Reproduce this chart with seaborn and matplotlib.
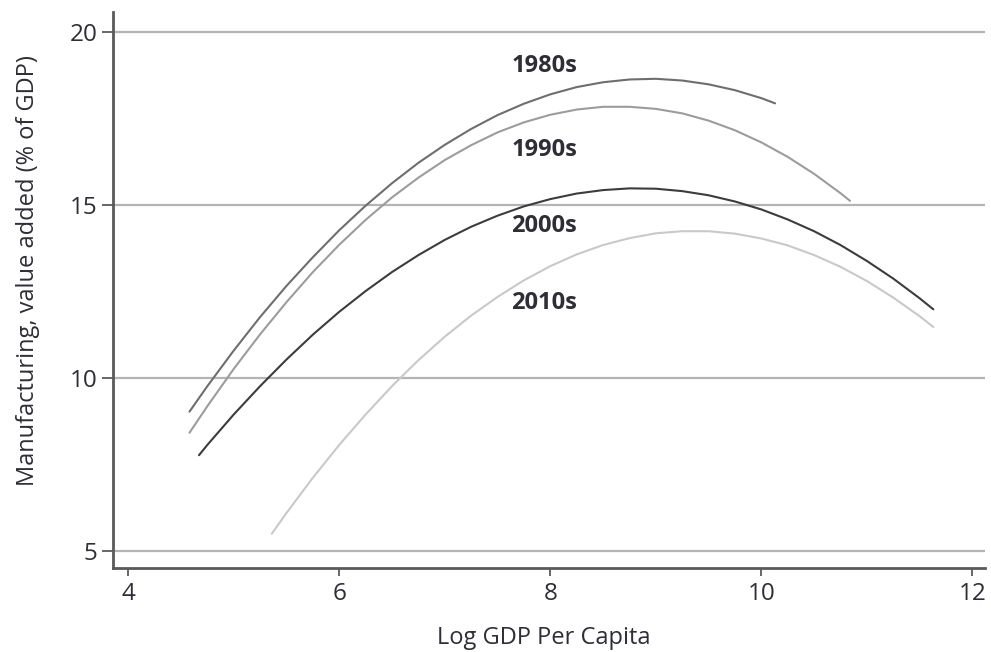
import numpy as np
import pandas as pd
import matplotlib
matplotlib.use("Agg")
import matplotlib.pyplot as plt
import seaborn as sns

# Values
x_1980s = [4.58, 4.75, 5.0, 5.25, 5.5, 5.75, 6.0, 6.25, 6.5, 6.75, 7.0, 7.25, 7.5, 7.75,
           8.0, 8.25, 8.5, 8.75, 9.0, 9.25, 9.5, 9.75, 10.0, 10.13]
y_1980s = [9.02, 9.76, 10.79, 11.76, 12.66, 13.49, 14.27, 14.98, 15.63, 16.22, 16.74, 17.20,
           17.60, 17.93, 18.20, 18.41, 18.55, 18.63, 18.65, 18.60, 18.49, 18.32, 18.09, 17.94]

x_1990s = [4.58, 4.75, 5.0, 5.25, 5.5, 5.75, 6.0, 6.25, 6.5, 6.75, 7.0, 7.25, 7.5, 7.75,
           8.0, 8.25, 8.5, 8.75, 9.0, 9.25, 9.5, 9.75, 10.0, 10.25, 10.5, 10.75, 10.84]
y_1990s = [8.41, 9.18, 10.26, 11.26, 12.19, 13.06, 13.85, 14.57, 15.22, 15.79, 16.30, 16.73,
           17.10, 17.39, 17.61, 17.76, 17.84, 17.84, 17.78, 17.65, 17.44, 17.16, 16.81, 16.39,
           15.90, 15.34, 15.12]

x_2000s = [4.67, 4.75, 5.0, 5.25, 5.5, 5.75, 6.0, 6.25, 6.5, 6.75, 7.0, 7.25, 7.5, 7.75,
           8.0, 8.25, 8.5, 8.75, 9.0, 9.25, 9.5, 9.75, 10.0, 10.25, 10.5, 10.75, 11.0, 11.25,
           11.5, 11.63]
y_2000s = [7.76, 8.06, 8.94, 9.76, 10.53, 11.25, 11.91, 12.51, 13.06, 13.55, 13.99, 14.37,
           14.69, 14.96, 15.17, 15.33, 15.43, 15.48, 15.47, 15.40, 15.28, 15.10, 14.87, 14.58,
           14.24, 13.84, 13.38, 12.87, 12.30, 11.98]

x_2010s = [5.36, 5.5, 5.75, 6.0, 6.25, 6.5, 6.75, 7.0, 7.25, 7.5, 7.75, 8.0, 8.25, 8.5,
           8.75, 9.0, 9.25, 9.5, 9.75, 10.0, 10.25, 10.5, 10.75, 11.0, 11.25, 11.5, 11.63]
y_2010s = [5.49, 6.09, 7.11, 8.06, 8.94, 9.76, 10.51, 11.19, 11.80, 12.34, 12.82, 13.23,
           13.57, 13.84, 14.04, 14.18, 14.24, 14.24, 14.17, 14.03, 13.83, 13.55, 13.21, 12.80,
           12.32, 11.78, 11.47]

decades = ["1980s", "1990s", "2000s", "2010s"]
label_x = [7.63, 7.63, 7.63, 7.63]
label_y = [19.01, 16.60, 14.38, 12.17]

x_ticks = [4, 6, 8, 10, 12]
y_ticks = [5, 10, 15, 20]

colors = {"1980s": "#6e6e6e", "1990s": "#9c9c9c", "2000s": "#3c3c3c", "2010s": "#c9c9c9"}

frames = []
for d, xs, ys in zip(decades, [x_1980s, x_1990s, x_2000s, x_2010s],
                     [y_1980s, y_1990s, y_2000s, y_2010s]):
    frames.append(pd.DataFrame({"x": xs, "y": ys, "decade": d}))
df = pd.concat(frames, ignore_index=True)

sns.set_theme(style="white")
plt.rcParams["font.family"] = ["Open Sans", "DejaVu Sans"]

fig = plt.figure(figsize=(9.91, 6.52), dpi=100)
ax = fig.add_axes([0.114, 0.129, 0.880, 0.853])

for yt in y_ticks:
    ax.axhline(yt, color="#b4b4b4", lw=1.6, zorder=0)

sns.lineplot(data=df, x="x", y="y", hue="decade", palette=colors, ax=ax,
             lw=1.5, legend=False, sort=False, estimator=None)

text_color = "#2e2e38"
for d, lx, ly in zip(decades, label_x, label_y):
    ax.text(lx, ly, d, fontsize=17, fontweight="bold", color=text_color,
            ha="left", va="center")

ax.set_xlim(3.855, 12.12)
ax.set_ylim(4.5, 20.59)
ax.set_xticks(x_ticks)
ax.set_yticks(y_ticks)
ax.set_xticklabels([str(t) for t in x_ticks])
ax.set_yticklabels([str(t) for t in y_ticks])
ax.set_xlabel("Log GDP Per Capita", fontsize=17, color=text_color)
ax.set_ylabel("Manufacturing, value added (% of GDP)", fontsize=17, color=text_color)
ax.xaxis.set_label_coords(0.494, -0.105)
ax.yaxis.set_label_coords(-0.084, 0.534)

for s in ["top", "right"]:
    ax.spines[s].set_visible(False)
for s in ["left", "bottom"]:
    ax.spines[s].set_color("#5a5a5a")
    ax.spines[s].set_linewidth(2.0)

ax.tick_params(axis="both", which="major", direction="out", width=1.3,
               color="#5a5a5a", labelsize=17.5, labelcolor=text_color,
               left=True, bottom=True)
ax.tick_params(axis="x", length=6, pad=4)
ax.tick_params(axis="y", length=8, pad=3)

fig.savefig("out.png", dpi=100, facecolor="white")
